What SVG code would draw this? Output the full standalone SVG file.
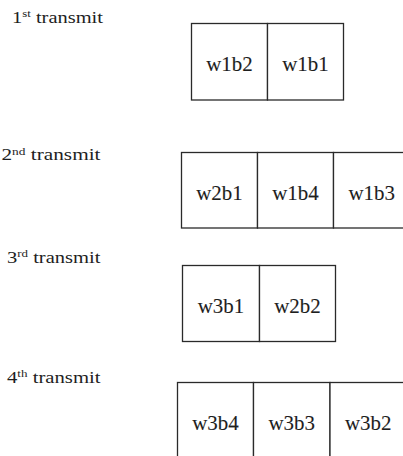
<svg xmlns="http://www.w3.org/2000/svg" width="403" height="456" viewBox="0 0 403 456">
<style>
.cell{fill:#fff;stroke:#2a2a2a;stroke-width:1.3}
.lbl{font-family:'Liberation Serif','Times New Roman',serif;font-size:17.5px;fill:#1e1e1e}
.sup{font-size:11px}
.txt{font-family:'Liberation Serif','Times New Roman',serif;font-size:20.5px;fill:#1e1e1e;stroke:#1e1e1e;stroke-width:0.1;text-anchor:middle}
</style>
<rect width="403" height="456" fill="#fff"/>
<g id="labels">
<text id="label1" class="lbl" x="12" y="22.5" textLength="91" lengthAdjust="spacingAndGlyphs">1<tspan class="sup" dy="-5.5">st</tspan><tspan dy="5.5"> transmit</tspan></text>
<text id="label2" class="lbl" x="1.5" y="160.3" textLength="99" lengthAdjust="spacingAndGlyphs">2<tspan class="sup" dy="-5.5">nd</tspan><tspan dy="5.5"> transmit</tspan></text>
<text id="label3" class="lbl" x="7" y="262.5" textLength="93.5" lengthAdjust="spacingAndGlyphs">3<tspan class="sup" dy="-5.5">rd</tspan><tspan dy="5.5"> transmit</tspan></text>
<text id="label4" class="lbl" x="7" y="382.5" textLength="93.5" lengthAdjust="spacingAndGlyphs">4<tspan class="sup" dy="-5.5">th</tspan><tspan dy="5.5"> transmit</tspan></text>
</g>
<g id="connectors"></g>
<g id="row1">
<g id="w1b2"><rect class="cell" x="191.5" y="23.5" width="76" height="76.5"/><text class="txt" x="229.5" y="71.2" textLength="46.5" lengthAdjust="spacingAndGlyphs">w1b2</text></g>
<g id="w1b1"><rect class="cell" x="267.5" y="23.5" width="76" height="76.5"/><text class="txt" x="305.5" y="71.2" textLength="46.5" lengthAdjust="spacingAndGlyphs">w1b1</text></g>
</g>
<g id="row2">
<g id="w2b1"><rect class="cell" x="181.5" y="152.5" width="76" height="75.5"/><text class="txt" x="219.5" y="199.5" textLength="46.5" lengthAdjust="spacingAndGlyphs">w2b1</text></g>
<g id="w1b4"><rect class="cell" x="257.5" y="152.5" width="76" height="75.5"/><text class="txt" x="295.5" y="199.5" textLength="46.5" lengthAdjust="spacingAndGlyphs">w1b4</text></g>
<g id="w1b3"><rect class="cell" x="333.5" y="152.5" width="76.5" height="75.5"/><text class="txt" x="371.7" y="199.5" textLength="46.5" lengthAdjust="spacingAndGlyphs">w1b3</text></g>
</g>
<g id="row3">
<g id="w3b1"><rect class="cell" x="182.5" y="265.5" width="77" height="76"/><text class="txt" x="221" y="313.2" textLength="46.5" lengthAdjust="spacingAndGlyphs">w3b1</text></g>
<g id="w2b2"><rect class="cell" x="259.5" y="265.5" width="76" height="76"/><text class="txt" x="297.5" y="313.2" textLength="46.5" lengthAdjust="spacingAndGlyphs">w2b2</text></g>
</g>
<g id="row4">
<g id="w3b4"><rect class="cell" x="177.5" y="382.5" width="76" height="77"/><text class="txt" x="215.5" y="429.5" textLength="46.5" lengthAdjust="spacingAndGlyphs">w3b4</text></g>
<g id="w3b3"><rect class="cell" x="253.5" y="382.5" width="76.5" height="77"/><text class="txt" x="291.7" y="429.5" textLength="46.5" lengthAdjust="spacingAndGlyphs">w3b3</text></g>
<g id="w3b2"><rect class="cell" x="330" y="382.5" width="76.5" height="77"/><text class="txt" x="368.2" y="429.5" textLength="46.5" lengthAdjust="spacingAndGlyphs">w3b2</text></g>
</g>
</svg>
